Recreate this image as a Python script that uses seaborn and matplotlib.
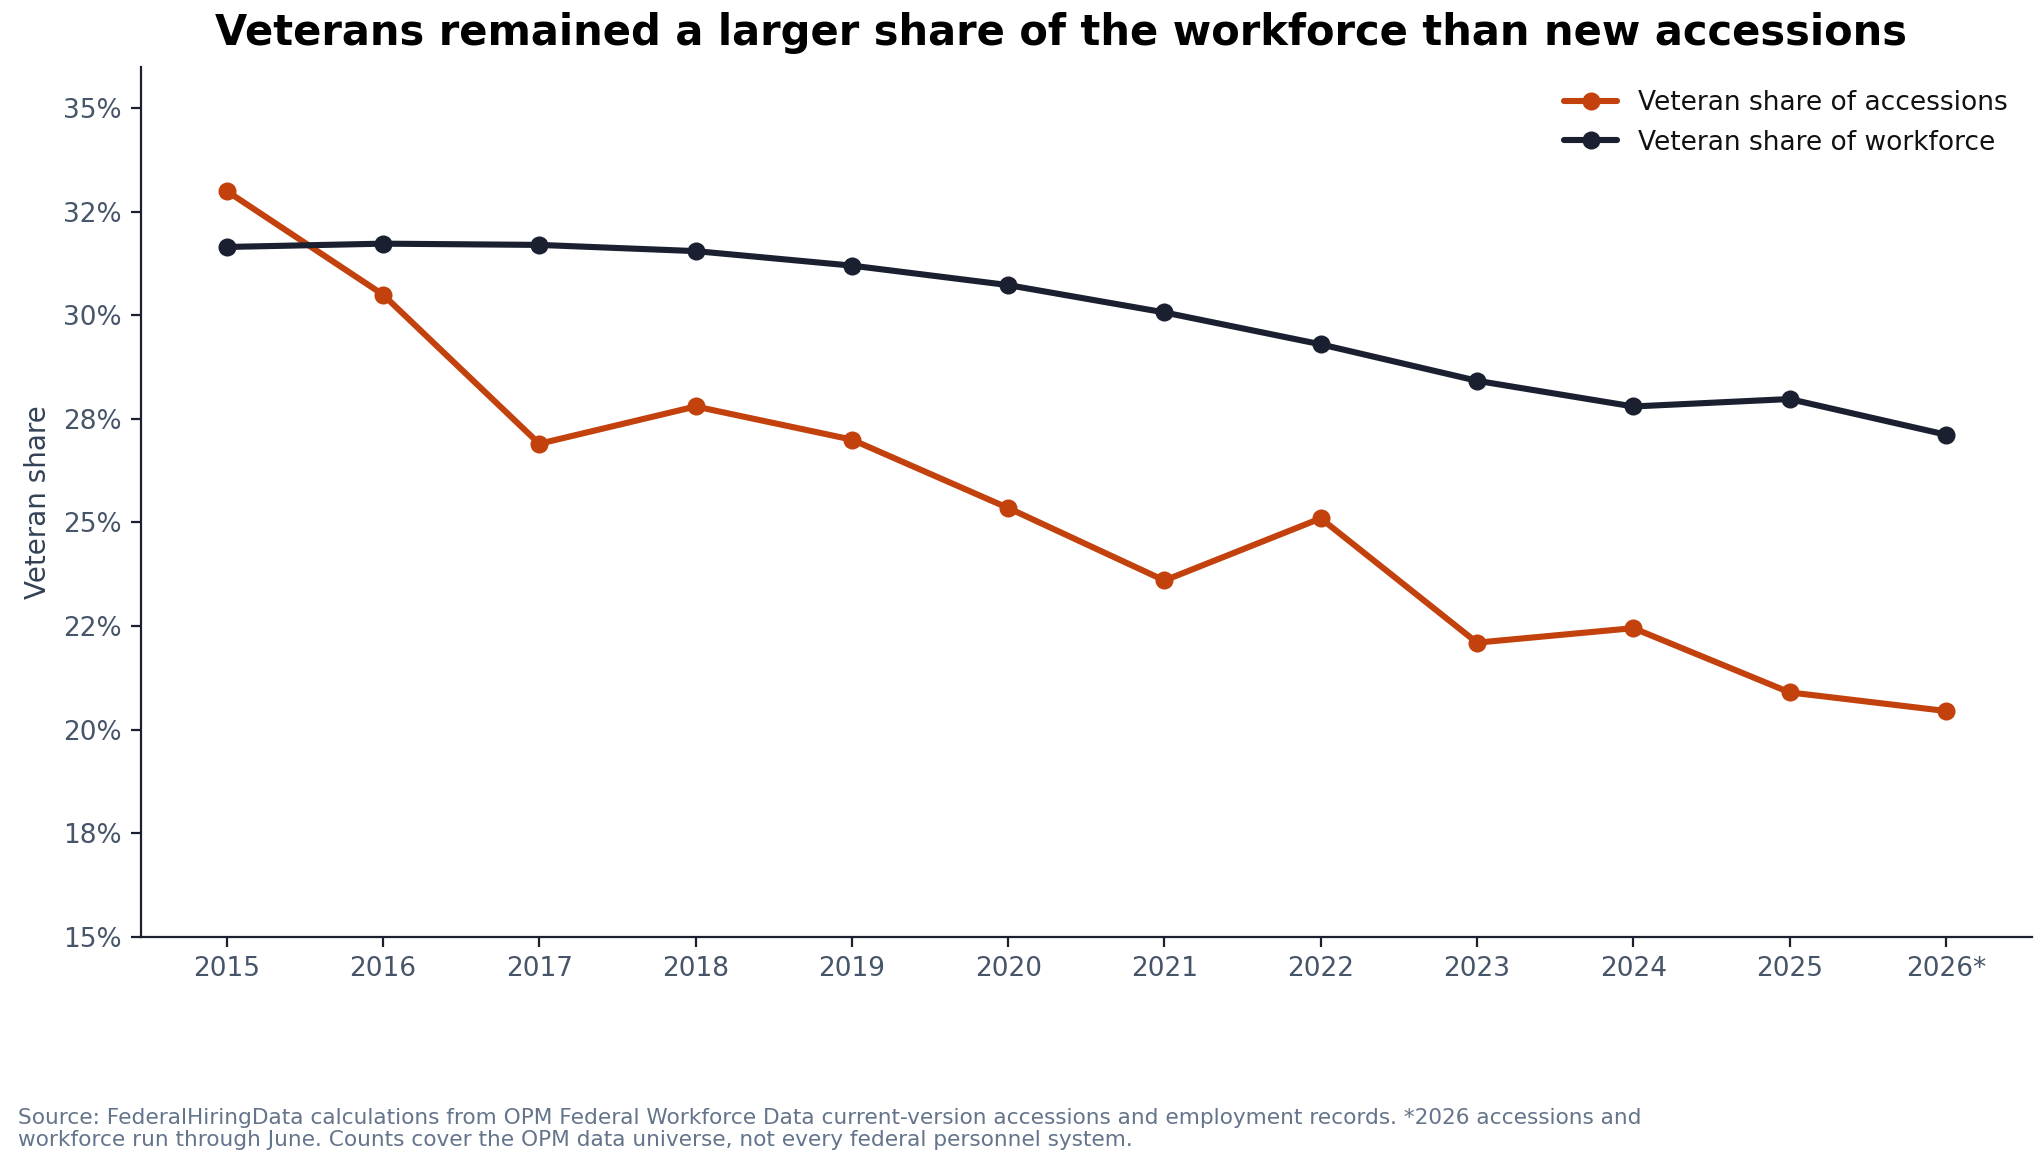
import pandas as pd
import matplotlib.pyplot as plt
import seaborn as sns
from matplotlib.ticker import FuncFormatter, MultipleLocator

# values (percent)
years = ['2015', '2016', '2017', '2018', '2019', '2020', '2021', '2022', '2023', '2024', '2025', '2026*']
accessions = [33.0, 30.5, 26.9, 27.8, 27.0, 25.35, 23.6, 25.1, 22.1, 22.45, 20.9, 20.45]
workforce = [31.65, 31.73, 31.7, 31.55, 31.2, 30.73, 30.07, 29.3, 28.42, 27.8, 27.98, 27.12]

df = pd.DataFrame({
    'year': years * 2,
    'share': accessions + workforce,
    'series': ['Veteran share of accessions'] * len(years) + ['Veteran share of workforce'] * len(years),
})

sns.set_style('white')
plt.rcParams['font.family'] = ['DejaVu Sans']

fig, ax = plt.subplots(figsize=(10.2, 5.855), dpi=200)
sns.lineplot(data=df, x='year', y='share', hue='series', sort=False,
             palette=['#c2410c', '#1a2030'], marker='o', markersize=6.5,
             markeredgewidth=0, linewidth=2.2, ax=ax)

ax.set_ylim(15, 36)
ax.yaxis.set_major_locator(MultipleLocator(2.5))
ax.yaxis.set_major_formatter(FuncFormatter(lambda v, p: f'{v:.0f}%'))
ax.set_xlim(-0.55, 11.55)
ax.set_xlabel('')
ax.set_ylabel('Veteran share', fontsize=10, color='#334155')
ax.tick_params(axis='both', labelsize=9.5, colors='#475569', length=3.5,
               color='#1a2030', bottom=True, left=True)
for lbl in ax.get_xticklabels() + ax.get_yticklabels():
    lbl.set_color('#475569')
sns.despine(ax=ax)
ax.spines['left'].set_color('#1a2030')
ax.spines['bottom'].set_color('#1a2030')

leg = ax.legend(title=None, frameon=False, loc='upper right', fontsize=9.5,
                bbox_to_anchor=(1.0, 1.0))
for t in leg.get_texts():
    t.set_color('#111111')

fig.suptitle('Veterans remained a larger share of the workforce than new accessions',
             fontsize=15, fontweight='bold', color='black', x=0.52, y=0.99)
fig.text(0.009, 0.018,
         'Source: FederalHiringData calculations from OPM Federal Workforce Data current-version accessions and employment records. *2026 accessions and\n'
         'workforce run through June. Counts cover the OPM data universe, not every federal personnel system.',
         fontsize=7.8, color='#64748b', va='bottom', linespacing=1.1)

plt.subplots_adjust(left=0.069, right=0.996, top=0.943, bottom=0.2)
fig.savefig('out.png', dpi=200)
